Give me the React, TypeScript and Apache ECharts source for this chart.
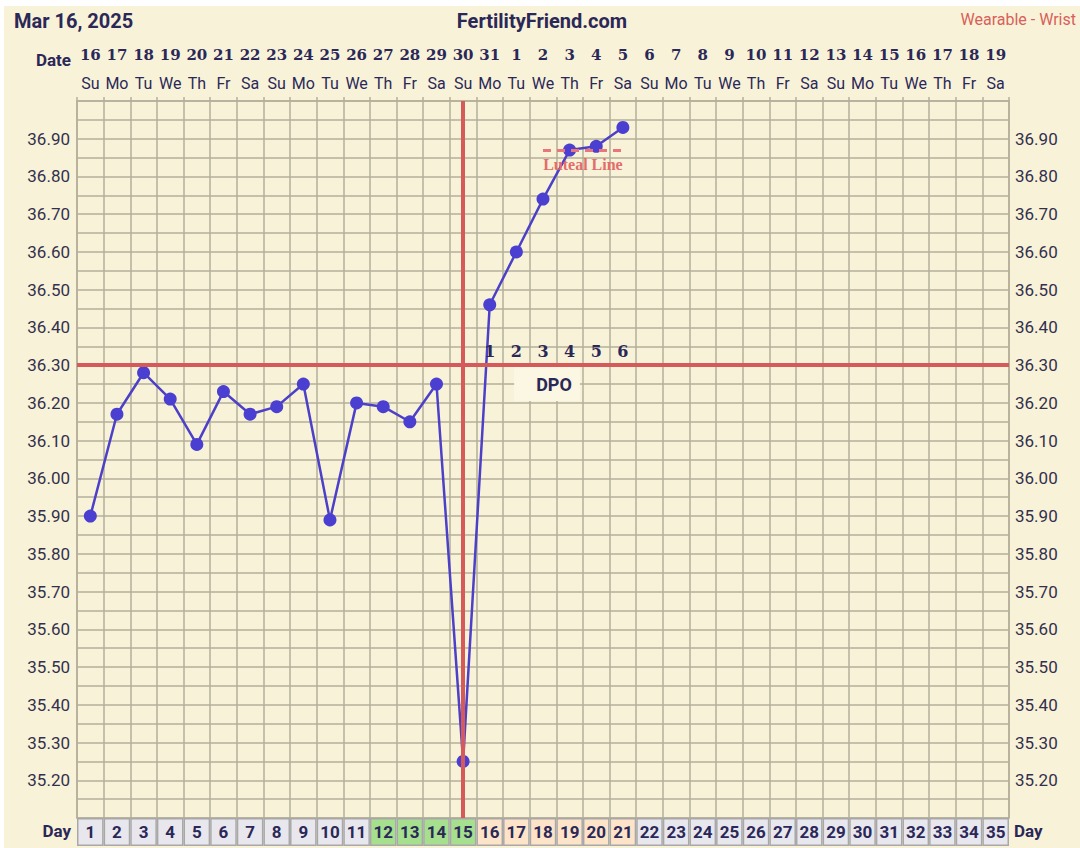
import React, { useEffect, useRef } from 'react';
import * as echarts from 'echarts';

const cycleDays = ['1','2','3','4','5','6','7','8','9','10','11','12','13','14','15','16','17','18','19','20','21','22','23','24','25','26','27','28','29','30','31','32','33','34','35'];
const dateLabels = ['16','17','18','19','20','21','22','23','24','25','26','27','28','29','30','31','1','2','3','4','5','6','7','8','9','10','11','12','13','14','15','16','17','18','19'];
const weekdayLabels = ['Su','Mo','Tu','We','Th','Fr','Sa','Su','Mo','Tu','We','Th','Fr','Sa','Su','Mo','Tu','We','Th','Fr','Sa','Su','Mo','Tu','We','Th','Fr','Sa','Su','Mo','Tu','We','Th','Fr','Sa'];
const temperatures = [35.90, 36.17, 36.28, 36.21, 36.09, 36.23, 36.17, 36.19, 36.25, 35.89, 36.20, 36.19, 36.15, 36.25, 35.25, 36.46, 36.60, 36.74, 36.87, 36.88, 36.93];
const dayPhases = ['n','n','n','n','n','n','n','n','n','n','n','f','f','f','f','l','l','l','l','l','l','n','n','n','n','n','n','n','n','n','n','n','n','n','n'];
const coverline = 36.30;
const ovulationDay = '15';
const dpoDays = ['16','17','18','19','20','21'];
const dpoLabels = ['1','2','3','4','5','6'];
const dpoTitleDay = '18';
const dpoTitleValue = 36.25;
const lutealFrom = '18';
const lutealTo = '21';
const lutealValue = 36.87;
const yMin = 35.1;
const yMax = 37.0;
const yStep = 0.05;

const cream = '#f8f3d8';
const gridColor = '#b4af9a';
const ink = '#2b2858';
const red = '#d65a5a';
const phaseColors: Record<string, string> = { n: '#e8e7ee', f: '#a6df8e', l: '#fde4c9' };

export default function App() {
  const ref = useRef<HTMLDivElement>(null);
  useEffect(() => {
    if (!ref.current) return;
    const chart = echarts.init(ref.current, undefined, { renderer: 'svg' });
    const idx = (d: string) => cycleDays.indexOf(d);
    const yLabel = (v: number) => {
      const c = Math.round(v * 100);
      if (c % 10 !== 0 || c < 3520 || c > 3690) return '';
      return (c / 100).toFixed(2);
    };
    const option: any = {
      animation: false,
      backgroundColor: 'transparent',
      grid: [
        { left: 73, top: 95, width: 932, height: 717 },
        { left: 73, top: 812, width: 932, height: 28 },
      ],
      xAxis: [
        {
          type: 'category', gridIndex: 0, data: cycleDays, position: 'bottom', boundaryGap: true,
          axisLine: { show: true, lineStyle: { color: gridColor, width: 1.5 } },
          axisTick: { show: false }, axisLabel: { show: false },
          splitLine: { show: true, interval: 0, lineStyle: { color: gridColor, width: 1.5 } },
        },
        {
          type: 'category', gridIndex: 0, data: cycleDays, position: 'top', boundaryGap: true,
          axisLine: { show: true, lineStyle: { color: gridColor, width: 1.5 } },
          axisTick: { show: true, interval: 0, length: 4, lineStyle: { color: gridColor, width: 1.5 } },
          axisLabel: {
            interval: 0, margin: 3,
            formatter: (_v: string, i: number) => `{d|${dateLabels[i]}}\n{w|${weekdayLabels[i]}}`,
            rich: {
              d: { fontFamily: 'DejaVu Serif', fontWeight: 'bold', fontSize: 15, color: ink, lineHeight: 29 },
              w: { fontFamily: 'Roboto', fontSize: 16, color: ink, lineHeight: 29 },
            },
          },
          splitLine: { show: false },
        },
        { type: 'category', gridIndex: 1, data: cycleDays, show: false, boundaryGap: true },
      ],
      yAxis: [
        {
          type: 'value', gridIndex: 0, min: yMin, max: yMax, interval: yStep, position: 'left',
          axisLine: { show: true, lineStyle: { color: gridColor, width: 1.5 } },
          axisTick: { show: false },
          axisLabel: { formatter: yLabel, margin: 7, fontSize: 17, fontFamily: 'Roboto', color: '#33304e' },
          splitLine: { show: true, lineStyle: { color: gridColor, width: 1.5 } },
        },
        {
          type: 'value', gridIndex: 0, min: yMin, max: yMax, interval: yStep, position: 'right',
          axisLine: { show: true, lineStyle: { color: gridColor, width: 1.5 } },
          axisTick: { show: false },
          axisLabel: { formatter: yLabel, margin: 6, fontSize: 17, fontFamily: 'Roboto', color: '#33304e' },
          splitLine: { show: false },
        },
        { type: 'value', gridIndex: 1, min: 0, max: 1, show: false },
      ],
      series: [
        {
          type: 'bar', xAxisIndex: 2, yAxisIndex: 2, barWidth: '100%', silent: true,
          data: cycleDays.map((_d, i) => ({ value: 1, itemStyle: { color: phaseColors[dayPhases[i]] } })),
          itemStyle: { borderColor: '#a9a8a8', borderWidth: 1.5 },
          label: { show: true, position: 'inside', formatter: '{b}', fontFamily: 'Roboto', fontWeight: 'bold', fontSize: 17, color: ink },
        },
        {
          type: 'line', xAxisIndex: 0, yAxisIndex: 0, data: temperatures, z: 3,
          symbol: 'circle', symbolSize: 13, showSymbol: true,
          lineStyle: { color: '#4c40c8', width: 2.5 },
          itemStyle: { color: '#4a3fd0' },
        },
        {
          type: 'line', xAxisIndex: 0, yAxisIndex: 0, data: [], z: 4, silent: true,
          markLine: {
            silent: true, symbol: 'none', animation: false,
            label: { show: false },
            data: [
              { yAxis: coverline, lineStyle: { color: red, width: 4, type: 'solid' } },
              { xAxis: idx(ovulationDay), lineStyle: { color: red, width: 4, type: 'solid' } },
              [
                {
                  coord: [idx(lutealFrom), lutealValue],
                  lineStyle: { color: '#e8777a', width: 3, type: [8, 6] },
                  label: {
                    show: true, position: 'insideMiddleBottom', distance: 6, formatter: 'Luteal Line',
                    fontFamily: 'Liberation Serif', fontWeight: 'bold', fontSize: 16, color: '#e36c6c',
                  },
                },
                { coord: [idx(lutealTo), lutealValue] },
              ],
            ],
          },
        },
        {
          type: 'scatter', xAxisIndex: 0, yAxisIndex: 0, symbolSize: 0, z: 5, silent: true,
          itemStyle: { opacity: 1 },
          data: dpoDays.map((d) => [idx(d), coverline]),
          label: {
            show: true, position: 'top', distance: 6, opacity: 1,
            formatter: (p: any) => dpoLabels[p.dataIndex],
            fontFamily: 'DejaVu Serif', fontWeight: 'bold', fontSize: 16, color: ink,
          },
        },
        {
          type: 'scatter', xAxisIndex: 0, yAxisIndex: 0, symbolSize: 0, z: 2, silent: true,
          itemStyle: { opacity: 1 },
          data: [[idx(dpoTitleDay), dpoTitleValue]],
          label: {
            show: true, position: 'inside', offset: [4, 0], formatter: 'DPO', opacity: 1,
            fontFamily: 'Roboto', fontWeight: 'bold', fontSize: 18, color: ink,
            backgroundColor: '#fbf7e3', padding: [8, 8, 8, 22],
          },
        },
      ],
      graphic: [
        { type: 'text', x: 10, y: 15, style: { text: 'Mar 16, 2025', font: 'bold 20px Roboto', fill: ink, textAlign: 'left', textVerticalAlign: 'middle' } },
        { type: 'text', x: 538, y: 15, style: { text: 'FertilityFriend.com', font: 'bold 20px Roboto', fill: ink, textAlign: 'center', textVerticalAlign: 'middle' } },
        { type: 'text', x: 1072, y: 13, style: { text: 'Wearable - Wrist', font: '16px Roboto', fill: '#d9605a', textAlign: 'right', textVerticalAlign: 'middle' } },
        { type: 'text', x: 67, y: 54, style: { text: 'Date', font: 'bold 17px Roboto', fill: ink, textAlign: 'right', textVerticalAlign: 'middle' } },
        { type: 'text', x: 67, y: 825, style: { text: 'Day', font: 'bold 17px Roboto', fill: ink, textAlign: 'right', textVerticalAlign: 'middle' } },
        { type: 'text', x: 1010, y: 825, style: { text: 'Day', font: 'bold 17px Roboto', fill: ink, textAlign: 'left', textVerticalAlign: 'middle' } },
      ],
    };
    chart.setOption(option);
    return () => chart.dispose();
  }, []);
  return (
    <div style={{ position: 'fixed', left: 0, top: 0, width: 1080, height: 848, background: '#ffffff', overflow: 'hidden' }}>
      <div ref={ref} style={{ position: 'absolute', left: 4, top: 6, width: 1076, height: 842, background: cream }} />
    </div>
  );
}
